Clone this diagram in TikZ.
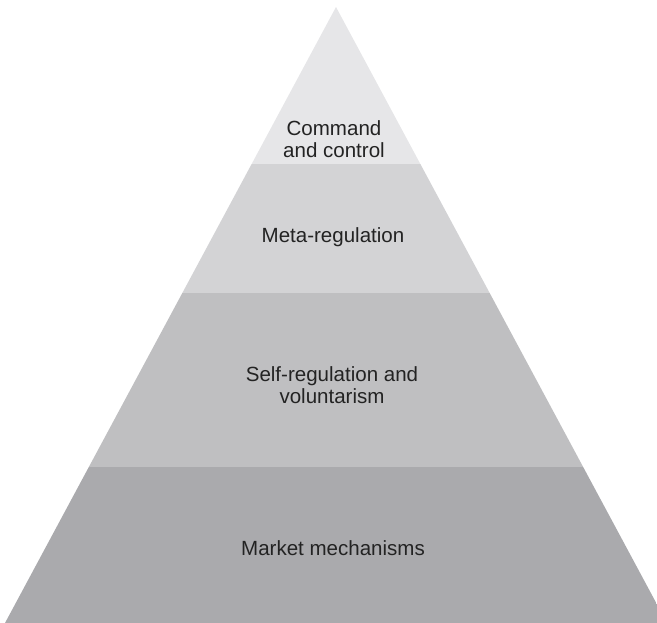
\documentclass[tikz,border=0pt]{standalone}
\usepackage{fontspec}
\setmainfont{Liberation Sans}
\definecolor{lay1}{RGB}{230,230,232}
\definecolor{lay2}{RGB}{211,211,213}
\definecolor{lay3}{RGB}{191,191,193}
\definecolor{lay4}{RGB}{170,170,173}
\definecolor{txt}{RGB}{35,35,35}
\begin{document}
\begin{tikzpicture}[x=0.75pt,y=-0.75pt,
  lbl/.style={text=txt,align=center,font=\fontsize{15.4}{16.5}\selectfont,inner sep=0pt}]
\useasboundingbox (0,0) rectangle (657,623);
\begin{scope}
\clip (0,0) rectangle (657,623);
\clip (336,7) -- (667,623) -- (5,623) -- cycle;
\fill[lay1] (0,0) rectangle (657,164);
\fill[lay2] (0,164) rectangle (657,293);
\fill[lay3] (0,293) rectangle (657,467);
\fill[lay4] (0,467) rectangle (657,623);
\end{scope}
\node[lbl] (cc) at (334,139) {Command\\and control};
\node[lbl] (mr) at (333,237) {Meta-regulation};
\node[lbl] (sr) at (332,385) {Self-regulation and\\voluntarism};
\node[lbl] (mm) at (333,548) {Market mechanisms};
\end{tikzpicture}
\end{document}
